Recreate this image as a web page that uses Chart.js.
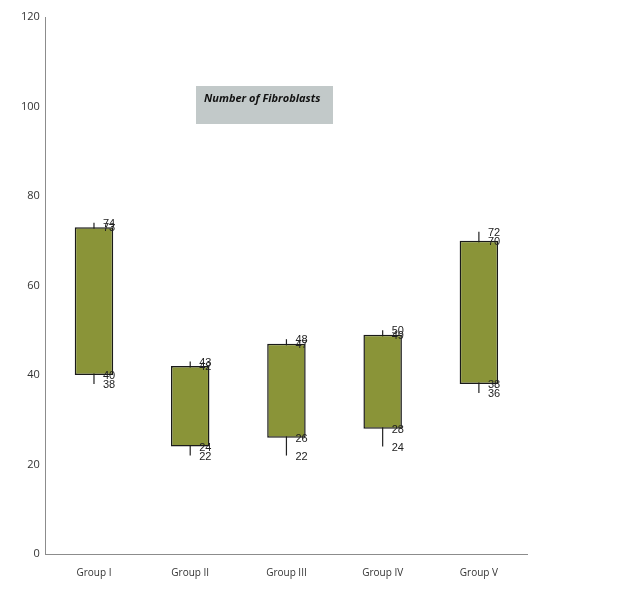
<!DOCTYPE html>
<html>
<head>
<meta charset="utf-8">
<script src="https://cdn.jsdelivr.net/npm/chart.js@4"></script>
<style>
  body { margin: 0; background: #fff; }
</style>
</head>
<body>
<canvas id="fibroChart" width="626" height="602"></canvas>
<script>
var groups = ['Group I', 'Group II', 'Group III', 'Group IV', 'Group V'];
var highs = [74, 43, 48, 50, 72];
var boxTops = [73, 42, 47, 49, 70];
var boxBottoms = [40, 24, 26, 28, 38];
var lows = [38, 22, 22, 24, 36];
var yTicks = [0, 20, 40, 60, 80, 100, 120];

// Draw whiskers behind the boxes, value labels and title on top
var whiskerPlugin = {
    id: 'whiskers',
    beforeDatasetsDraw: function(chart) {
        var ctx = chart.ctx;
        var x = chart.scales.x;
        var y = chart.scales.y;
        ctx.save();
        ctx.strokeStyle = '#222';
        ctx.lineWidth = 1.2;
        groups.forEach(function(g, i) {
            var cx = x.getPixelForValue(i);
            ctx.beginPath();
            ctx.moveTo(cx, y.getPixelForValue(highs[i]));
            ctx.lineTo(cx, y.getPixelForValue(lows[i]));
            ctx.stroke();
        });
        ctx.restore();
    },
    afterDatasetsDraw: function(chart) {
        var ctx = chart.ctx;
        var x = chart.scales.x;
        var y = chart.scales.y;
        ctx.save();
        ctx.fillStyle = '#222';
        ctx.font = '11px "Liberation Sans", sans-serif';
        ctx.textBaseline = 'middle';
        ctx.textAlign = 'left';
        groups.forEach(function(g, i) {
            var lx = x.getPixelForValue(i) + 9;
            [highs[i], boxTops[i], boxBottoms[i], lows[i]].forEach(function(v) {
                ctx.fillText(String(v), lx, y.getPixelForValue(v) + 1);
            });
        });

        // title box
        ctx.fillStyle = '#c2c9c9';
        ctx.fillRect(196, 86, 137, 38);
        ctx.fillStyle = '#111';
        ctx.font = 'italic bold 11px "Open Sans", sans-serif';
        ctx.textAlign = 'left';
        ctx.fillText('Number of Fibroblasts', 204, 99);
        ctx.restore();
    }
};

var ctx = document.getElementById('fibroChart').getContext('2d');
var chart = new Chart(ctx, {
    type: 'bar',
    data: {
        labels: groups,
        datasets: [{
            data: groups.map(function(g, i) { return [boxBottoms[i], boxTops[i]]; }),
            backgroundColor: '#8a9438',
            borderColor: '#1a1a1a',
            borderWidth: 1.5,
            borderSkipped: false,
            barPercentage: 0.4,
            categoryPercentage: 1.0
        }]
    },
    options: {
        responsive: false,
        animation: false,
        layout: { padding: { left: 15, right: 99, top: 17, bottom: 10 } },
        plugins: {
            legend: { display: false },
            tooltip: { enabled: false }
        },
        scales: {
            x: {
                grid: { display: false, drawTicks: false },
                border: { display: true, color: '#8c8c8c', width: 1 },
                ticks: {
                    color: '#333',
                    font: { family: 'Open Sans', size: 10 },
                    padding: 13
                }
            },
            y: {
                min: 0,
                max: 120,
                afterBuildTicks: function(axis) {
                    axis.ticks = yTicks.map(function(v) { return { value: v }; });
                },
                grid: { display: false, drawTicks: false },
                border: { display: true, color: '#8c8c8c', width: 1 },
                ticks: {
                    color: '#333',
                    font: { family: 'Open Sans', size: 11 },
                    padding: 6
                }
            }
        }
    },
    plugins: [whiskerPlugin]
});
</script>
</body>
</html>
